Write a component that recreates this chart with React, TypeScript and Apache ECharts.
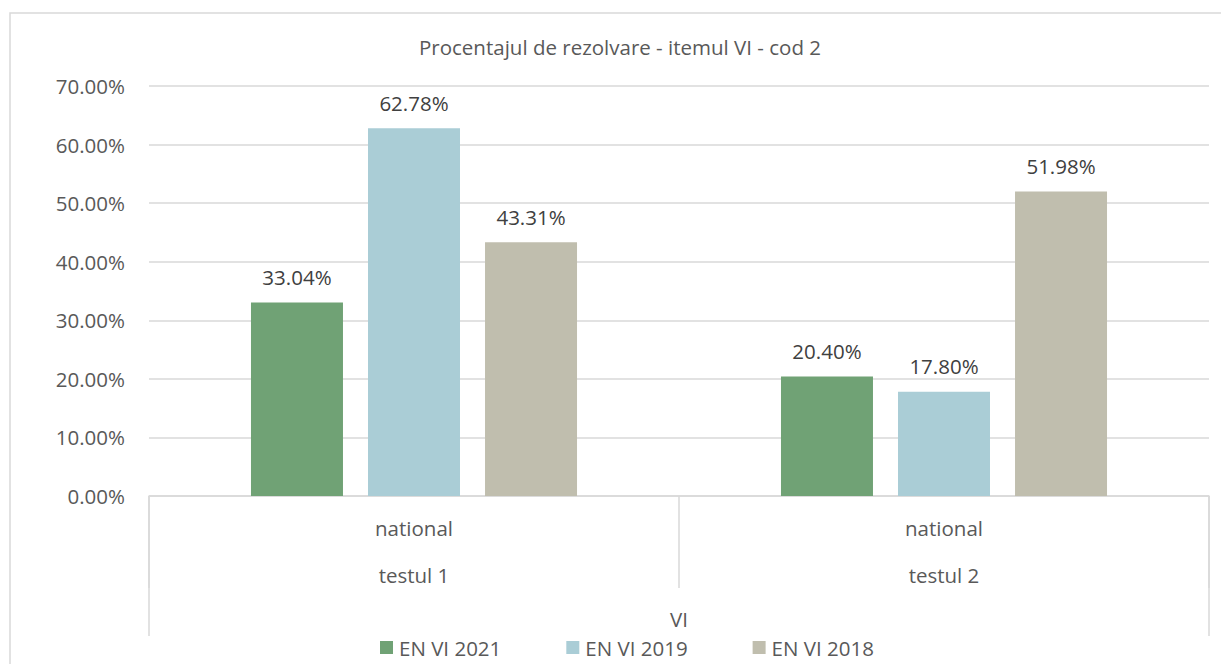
import React, { useEffect, useRef } from "react";
import * as echarts from "echarts";

const title = "Procentajul de rezolvare - itemul VI - cod 2";
const categories = ["testul 1", "testul 2"];
const level1Labels = ["national", "national"];
const topLevelLabel = ["VI"];
const seriesNames = ["EN VI 2021", "EN VI 2019", "EN VI 2018"];
const values2021 = [0.3304, 0.204];
const values2019 = [0.6278, 0.178];
const values2018 = [0.4331, 0.5198];
const colors = ["#70A275", "#AACDD6", "#C0BEAE"];
const yTicks = { min: 0, max: 0.7, interval: 0.1 };

const FONT = "'Open Sans', 'Noto Sans', sans-serif";
const FS = 20.5;

export default function App() {
  const ref = useRef<HTMLDivElement>(null);
  useEffect(() => {
    document.body.style.margin = "0";
    const chart = echarts.init(ref.current!, null, { renderer: "svg" });
    const pct = (v: number) => (v * 100).toFixed(2) + "%";
    const allValues = [values2021, values2019, values2018];
    chart.setOption({
      animation: false,
      backgroundColor: "#ffffff",
      textStyle: { fontFamily: FONT },
      title: {
        text: title,
        left: 419,
        top: 36,
        padding: 0,
        textStyle: { fontFamily: FONT, fontSize: FS, fontWeight: "normal", color: "#595959" },
      },
      graphic: [
        {
          type: "rect",
          shape: { x: 10, y: 13, width: 1400, height: 800 },
          style: { fill: "none", stroke: "#d9d9d9", lineWidth: 1.5 },
          silent: true,
          z: -1,
        },
      ],
      legend: {
        left: 380,
        top: 637,
        padding: 0,
        itemWidth: 13,
        itemHeight: 13,
        itemGap: 65,
        icon: "rect",
        textStyle: { fontFamily: FONT, fontSize: FS, lineHeight: 20, color: "#595959", padding: [0, 0, 0, 1] },
        data: seriesNames,
      },
      grid: { left: 149, right: 12, top: 86, bottom: 168, containLabel: false },
      xAxis: [
        {
          type: "category",
          position: "bottom",
          offset: 0,
          data: categories,
          axisLine: { show: true, lineStyle: { color: "#d9d9d9", width: 1.5 } },
          axisTick: { show: true, interval: 0, length: 92, lineStyle: { color: "#d9d9d9", width: 1.5 } },
          axisLabel: {
            interval: 0,
            margin: 8.5,
            formatter: (v: string, i: number) => `{a|${level1Labels[i]}}\n{b|${v}}`,
            rich: {
              a: { fontFamily: FONT, fontSize: FS, color: "#595959", lineHeight: 47 },
              b: { fontFamily: FONT, fontSize: FS, color: "#595959", lineHeight: 47 },
            },
          },
        },
        {
          type: "category",
          position: "bottom",
          offset: 0,
          data: topLevelLabel,
          axisLine: { show: false },
          axisTick: { show: true, interval: 0, length: 140, lineStyle: { color: "#d9d9d9", width: 1.5 } },
          axisLabel: {
            interval: 0,
            margin: 113,
            fontFamily: FONT,
            fontSize: FS,
            lineHeight: 20,
            color: "#595959",
          },
        },
      ],
      yAxis: {
        type: "value",
        min: yTicks.min,
        max: yTicks.max,
        interval: yTicks.interval,
        axisLine: { show: false },
        axisTick: { show: false },
        axisLabel: { margin: 24, fontFamily: FONT, fontSize: FS, color: "#595959", formatter: pct },
        splitLine: { lineStyle: { color: "#d9d9d9", width: 1.5 } },
      },
      series: seriesNames.map((name, i) => ({
        name,
        type: "bar",
        xAxisIndex: 0,
        data: allValues[i],
        barWidth: 92,
        barGap: "27.2%",
        itemStyle: { color: colors[i] },
        label: {
          show: true,
          position: "top",
          distance: 15,
          fontFamily: FONT,
          fontSize: FS,
          color: "#404040",
          formatter: (p: any) => pct(p.value),
        },
      })),
    });
    return () => chart.dispose();
  }, []);
  return (
    <div
      ref={ref}
      style={{ position: "absolute", left: 0, top: 0, width: 1221, height: 664 }}
    />
  );
}
